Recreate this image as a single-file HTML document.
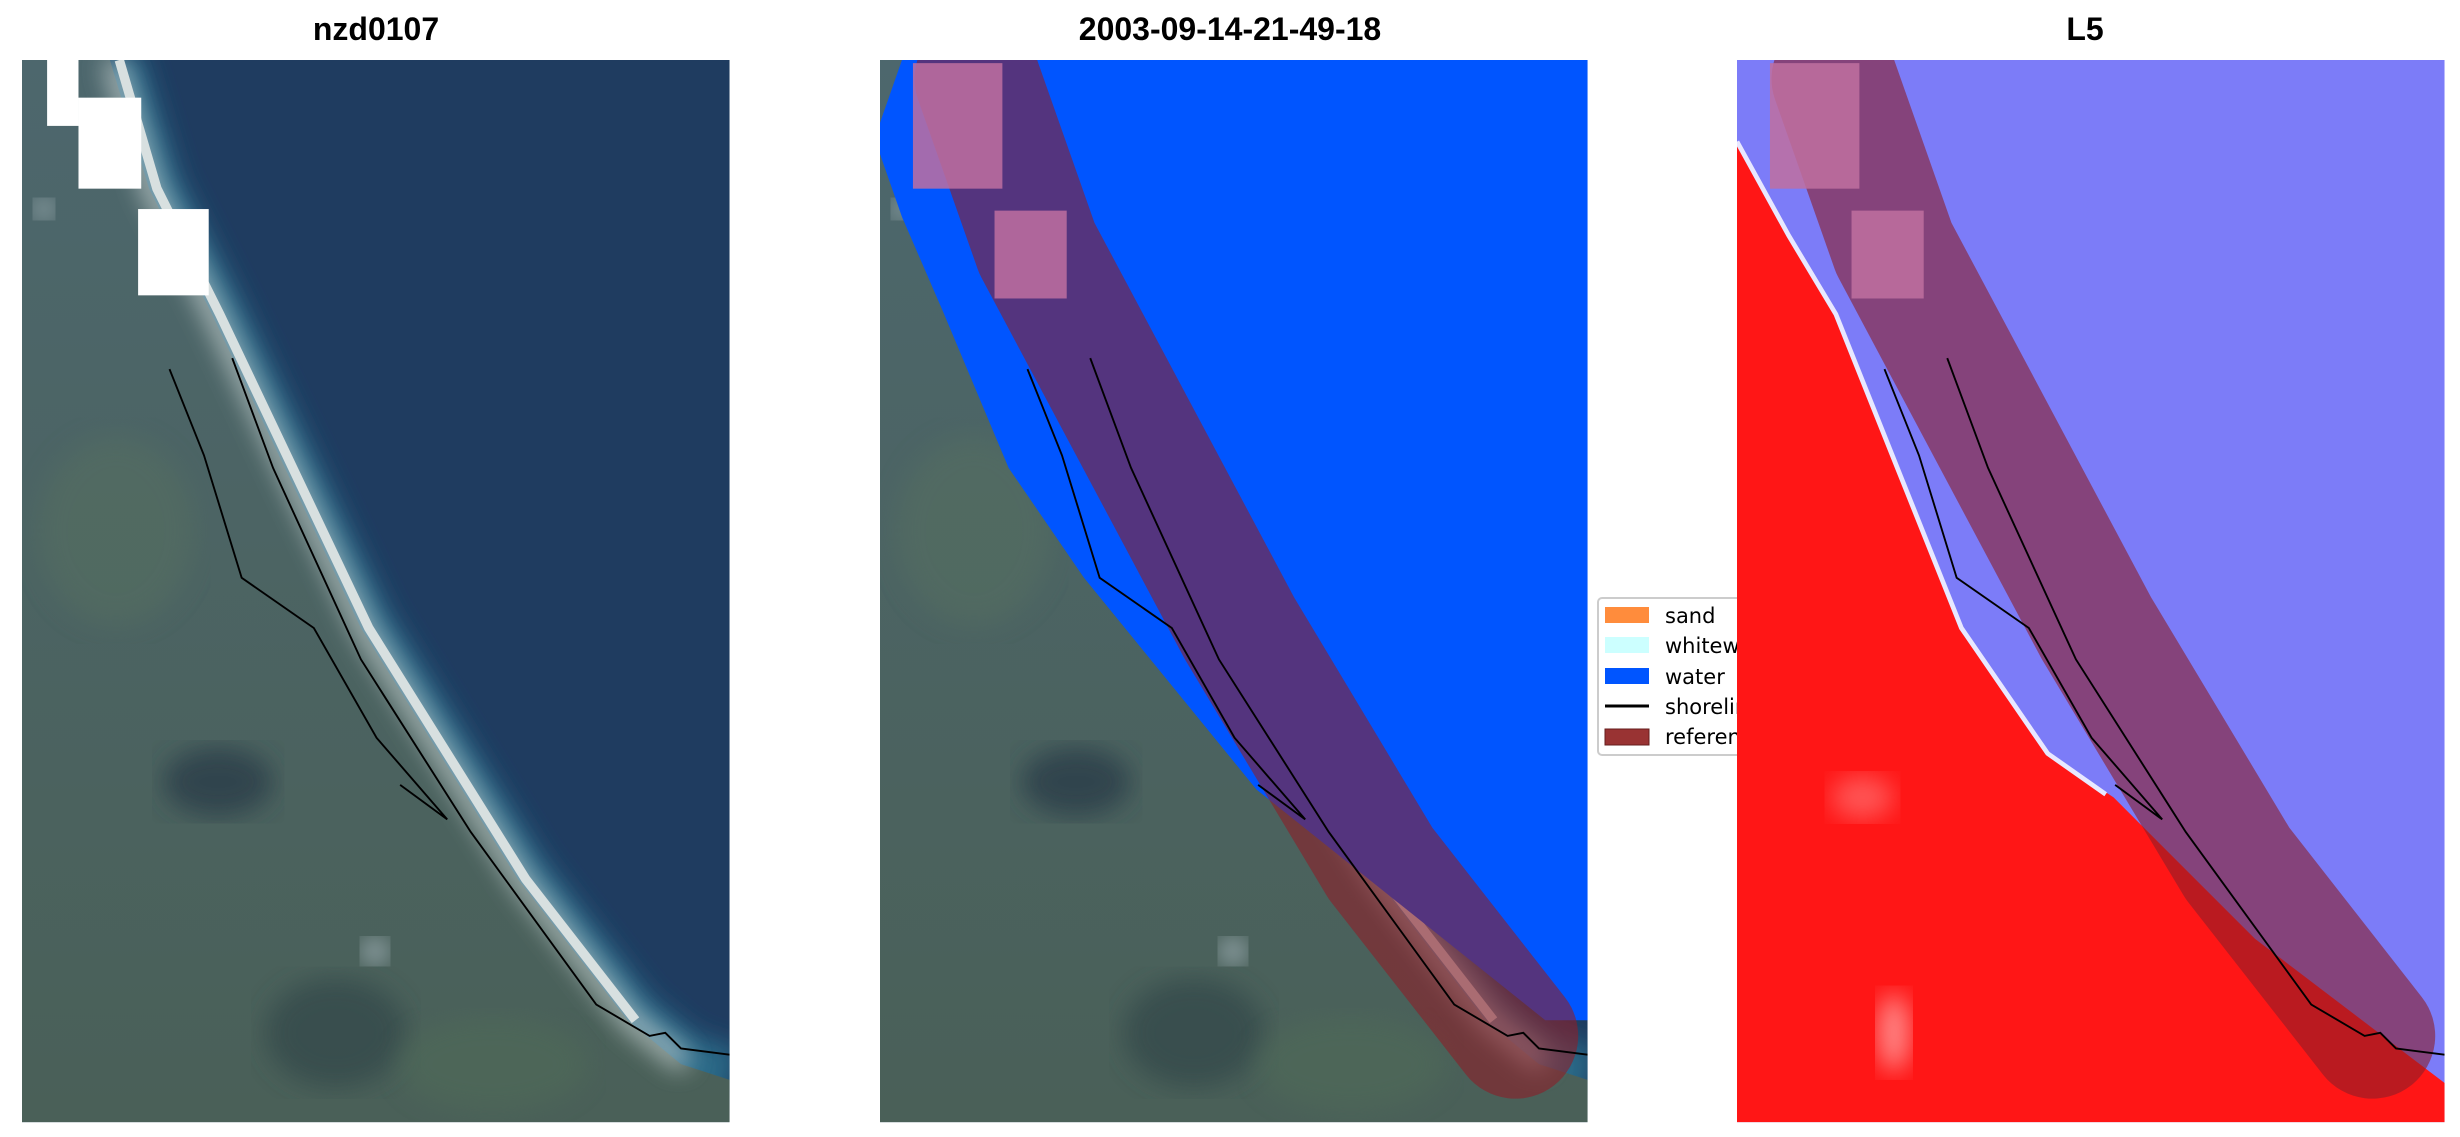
<!DOCTYPE html>
<html><head><meta charset="utf-8"><style>
body{margin:0;background:#fff;width:2460px;height:1137px;overflow:hidden}
svg{display:block}
.t{font-family:"Liberation Sans","DejaVu Sans",sans-serif;font-weight:bold;font-size:32px;fill:#000}
.l{font-family:"DejaVu Sans","Liberation Sans",sans-serif;font-size:21px;fill:#000}
</style></head><body>
<svg width="2460" height="1137" viewBox="0 0 2460 1137">
<defs>
<clipPath id="c"><rect x="0" y="0" width="451" height="677"/></clipPath>
<filter id="bl"><feGaussianBlur stdDeviation="8"/></filter>
<linearGradient id="land" x1="0" y1="0" x2="0" y2="1">
<stop offset="0" stop-color="#4d676d"/><stop offset="1" stop-color="#4a6058"/></linearGradient>
<g id="sat">
<rect x="0" y="0" width="451" height="677" fill="#1f3c60"/>
<polyline points="56,0 81,82 121,162 216,362 316,522 386,612 420,640 451,650" fill="none" stroke="#2a6a88" stroke-width="40" filter="url(#bl)"/>
<polygon points="0,0 56,0 81,82 121,162 216,362 316,522 386,612 420,640 451,650 451,677 0,677" fill="url(#land)"/>
<polyline points="58,0 83,82 123,162 218,362 318,522 388,612 423,640" fill="none" stroke="#c0cccc" stroke-width="12" filter="url(#bl)" opacity="0.9"/>
<polyline points="62,0 86,82 126,162 221,362 321,522 391,612" fill="none" stroke="#d8e0e0" stroke-width="6"/>
<ellipse cx="125" cy="460" rx="35" ry="22" fill="#2a3c48" opacity="0.8" filter="url(#bl)"/>
<ellipse cx="200" cy="620" rx="45" ry="35" fill="#33464a" opacity="0.7" filter="url(#bl)"/>
<ellipse cx="60" cy="300" rx="50" ry="60" fill="#577060" opacity="0.5" filter="url(#bl)"/>
<ellipse cx="300" cy="640" rx="60" ry="30" fill="#4f6a58" opacity="0.6" filter="url(#bl)"/>
<circle cx="14" cy="95" r="6" fill="#c8d4d8" filter="url(#bl)"/>
<circle cx="225" cy="568" r="8" fill="#b0c0c8" filter="url(#bl)"/>
</g>
<g id="band">
<polyline points="62,12 100,120 229,362 319,512 405,622" fill="none" stroke="#8c1e28" stroke-opacity="0.6" stroke-width="80" stroke-linecap="round" stroke-linejoin="round"/>
<rect x="21" y="2" width="57" height="80" fill="#c070a0" opacity="0.85"/>
<rect x="73" y="96" width="46" height="56" fill="#c070a0" opacity="0.85"/>
</g>
<g id="lines">
<polyline points="134,190 160,260 216,382 286,492 366,602 400,622 410,620 420,630 451,634" fill="none" stroke="#000" stroke-width="1.2"/>
<polyline points="94,197 116,252 140,330 186,362 226,432 271,484 241,462" fill="none" stroke="#000" stroke-width="1.2"/>
</g>
</defs>
<text class="t" x="376" y="40" text-anchor="middle">nzd0107</text>
<text class="t" x="1230" y="40" text-anchor="middle">2003-09-14-21-49-18</text>
<text class="t" x="2085" y="40" text-anchor="middle">L5</text>

<g transform="translate(22,60) scale(1.569)" clip-path="url(#c)">
<use href="#sat"/>
<rect x="16" y="0" width="20" height="42" fill="#fff"/>
<rect x="36" y="24" width="40" height="58" fill="#fff"/>
<rect x="74" y="95" width="45" height="55" fill="#fff"/>
<use href="#lines"/>
</g>

<g transform="translate(880,60) scale(1.569)" clip-path="url(#c)">
<use href="#sat"/>
<polygon points="0,40 14,0 451,0 451,612 424,612 240,465 130,330 82,260 40,160 14,100 0,60" fill="#0055ff"/>
<use href="#band"/>
<use href="#lines"/>
</g>

<g>
<rect x="1598" y="598" width="160" height="157" rx="4" fill="#fff" stroke="#ccc" stroke-width="2"/>
<rect x="1605" y="607" width="44" height="16" fill="#ff8c3c"/>
<text class="l" x="1665" y="623">sand</text>
<rect x="1605" y="637" width="44" height="16" fill="#ccffff"/>
<text class="l" x="1665" y="653">whitewater</text>
<rect x="1605" y="668" width="44" height="16" fill="#0055ff"/>
<text class="l" x="1665" y="684">water</text>
<line x1="1605" y1="706" x2="1649" y2="706" stroke="#000" stroke-width="3"/>
<text class="l" x="1665" y="714">shoreline</text>
<rect x="1605" y="729" width="44" height="16" fill="#993333" stroke="#661e1e"/>
<text class="l" x="1665" y="744">reference</text>
</g>

<g transform="translate(1737,60) scale(1.569)" clip-path="url(#c)">
<rect x="0" y="0" width="451" height="677" fill="#7c7cf8"/>
<polygon points="0,52 33,112 63,162 103,262 143,362 198,442 240,470 330,560 451,652 451,677 0,677" fill="#ff1616"/>
<polyline points="0,52 33,112 63,162 103,262 143,362 198,442 235,468" fill="none" stroke="#e8e8ff" stroke-width="3"/>
<ellipse cx="80" cy="470" rx="20" ry="14" fill="#ff8080" opacity="0.6" filter="url(#bl)"/>
<ellipse cx="100" cy="620" rx="10" ry="25" fill="#ffc0c0" opacity="0.7" filter="url(#bl)"/>
<use href="#band"/>
<use href="#lines"/>
</g>
</svg>
</body></html>
